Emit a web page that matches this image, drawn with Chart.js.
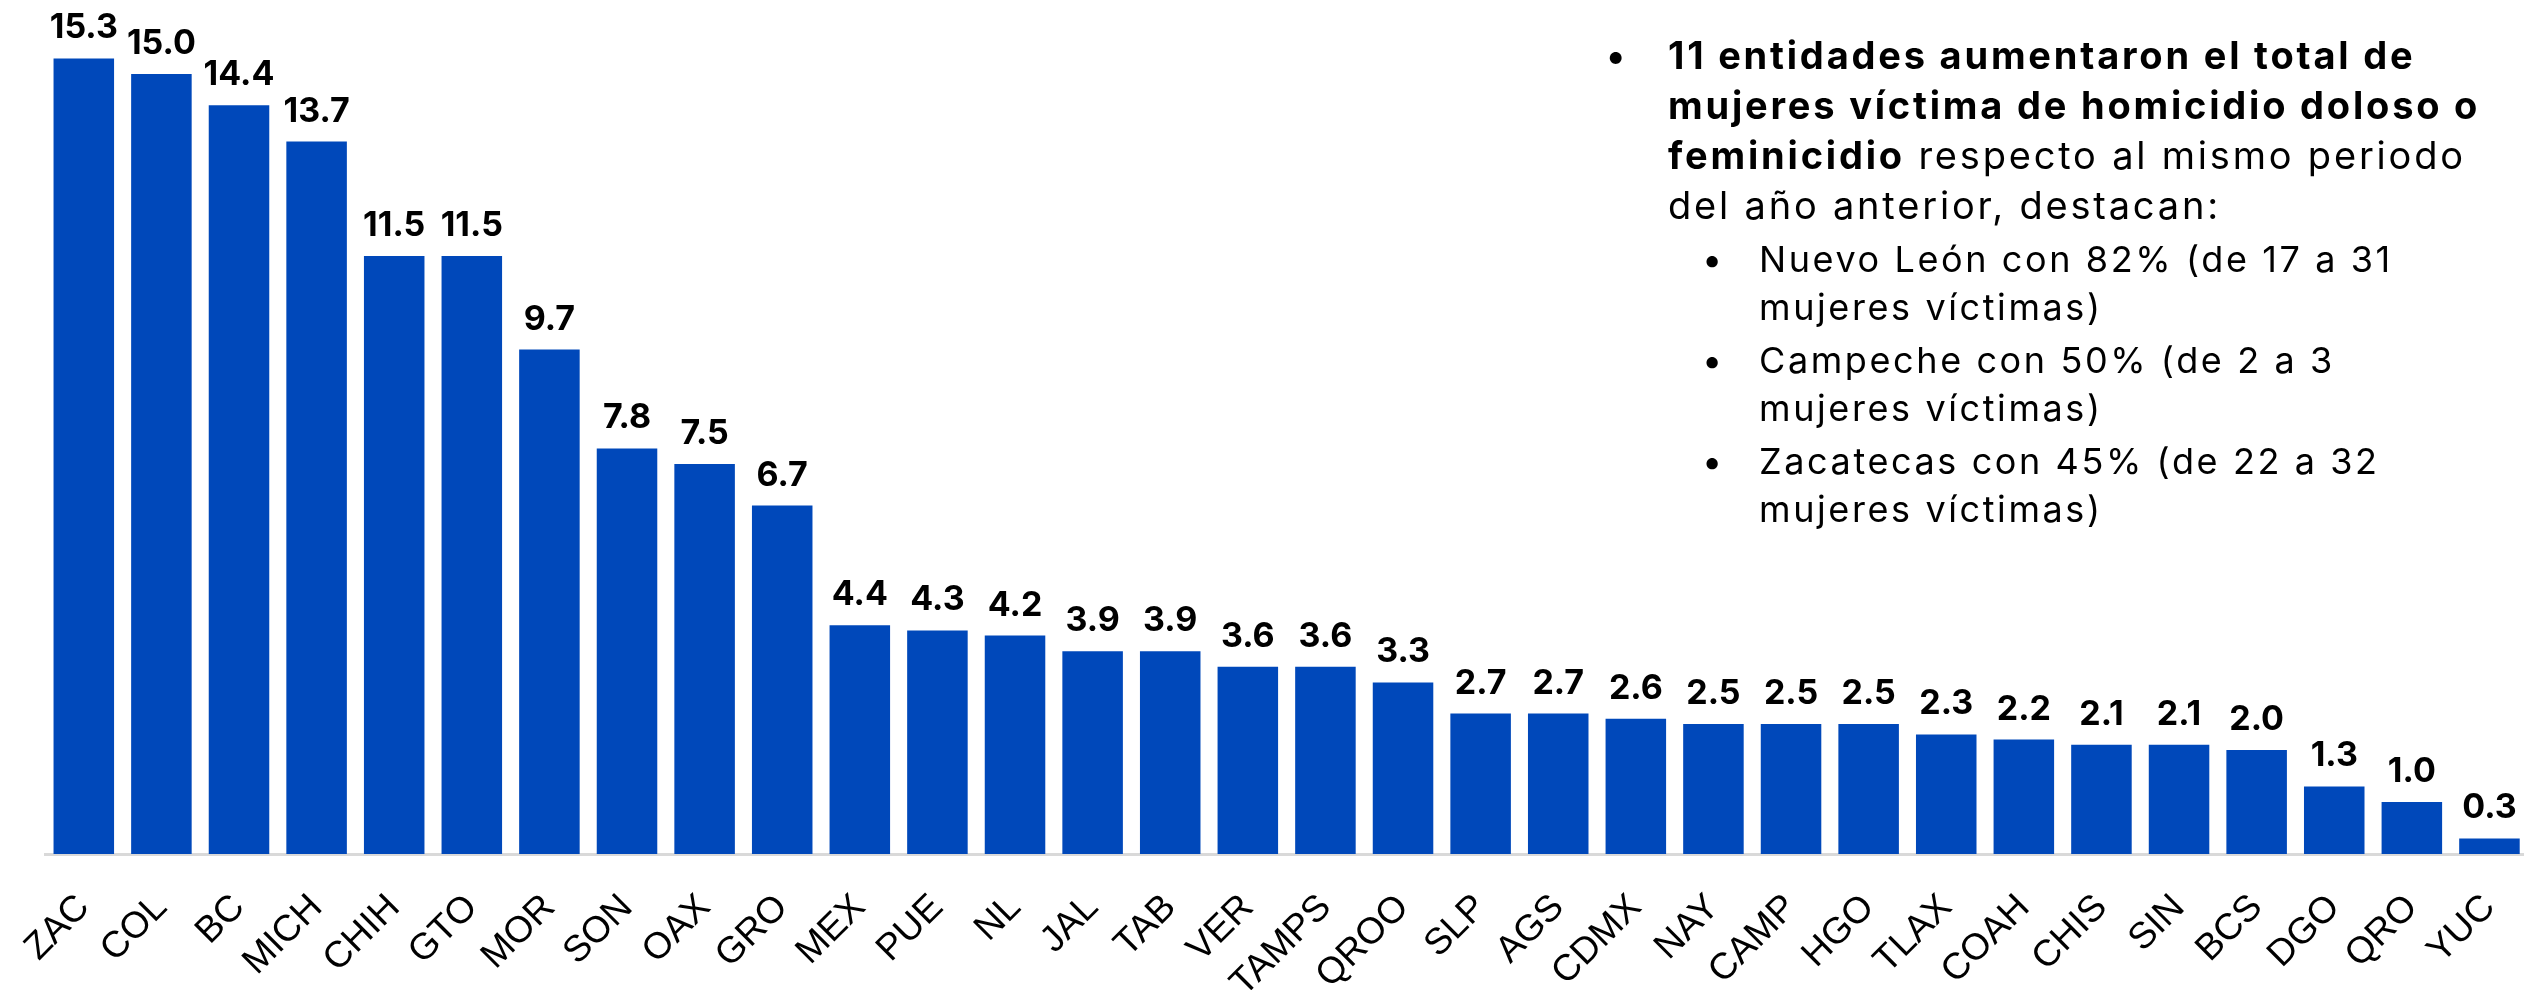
<!DOCTYPE html>
<html>
<head>
<meta charset="utf-8">
<script src="https://cdn.jsdelivr.net/npm/chart.js@4.4.1/dist/chart.umd.min.js"></script>
<style>
  html, body { margin: 0; padding: 0; background: #fff; overflow: hidden; }
  #wrap { position: absolute; left: 0; top: 0; width: 2545px; height: 990px; }
  #nota {
    position: absolute; left: 1613px; top: 30px; width: 910px;
    font-family: Inter, "Noto Sans", sans-serif; font-size: 38px; line-height: 50px;
    letter-spacing: 2.8px; color: #000; white-space: nowrap;
  }
  #nota ul { margin: 0; padding: 0; list-style: none; }
  #nota li.main { position: relative; padding-left: 55px; }
  #nota li.main::before { content: "\2022"; position: absolute; left: -8px; top: 0; }
  #nota ul.sub { margin-left: 40px; font-size: 36px; letter-spacing: 2.6px; }
  #nota ul.sub li { position: relative; padding-left: 51px; margin-top: 5px; line-height: 48px; }
  #nota ul.sub li::before { content: "\2022"; position: absolute; left: -6px; top: 0; }
</style>
</head>
<body>
<div id="wrap"><canvas id="grafica" width="2545" height="990"></canvas></div>
<div id="nota">
  <ul>
    <li class="main"><b>11 entidades aumentaron el total de<br>mujeres víctima de homicidio doloso o<br>feminicidio</b> respecto al mismo periodo<br>del año anterior, destacan:
      <ul class="sub">
        <li>Nuevo León con 82% (de 17 a 31<br>mujeres víctimas)</li>
        <li>Campeche con 50% (de 2 a 3<br>mujeres víctimas)</li>
        <li>Zacatecas con 45% (de 22 a 32<br>mujeres víctimas)</li>
      </ul>
    </li>
  </ul>
</div>
<script>
// entidades y tasa
const entidades = ['ZAC', 'COL', 'BC', 'MICH', 'CHIH', 'GTO', 'MOR', 'SON', 'OAX', 'GRO',
  'MEX', 'PUE', 'NL', 'JAL', 'TAB', 'VER', 'TAMPS', 'QROO', 'SLP', 'AGS',
  'CDMX', 'NAY', 'CAMP', 'HGO', 'TLAX', 'COAH', 'CHIS', 'SIN', 'BCS', 'DGO', 'QRO', 'YUC'];
const tasas = [15.3, 15.0, 14.4, 13.7, 11.5, 11.5, 9.7, 7.8, 7.5, 6.7,
  4.4, 4.3, 4.2, 3.9, 3.9, 3.6, 3.6, 3.3, 2.7, 2.7,
  2.6, 2.5, 2.5, 2.5, 2.3, 2.2, 2.1, 2.1, 2.0, 1.3, 1.0, 0.3];
const ejeMax = 16;

// etiquetas arriba de cada barra
const etiquetas = {
  id: 'etiquetas',
  afterDatasetsDraw(chart) {
    const ctx = chart.ctx;
    const meta = chart.getDatasetMeta(0);
    ctx.save();
    ctx.font = 'bold 34px Inter, "Noto Sans", sans-serif';
    ctx.fillStyle = '#000';
    ctx.textAlign = 'center';
    ctx.textBaseline = 'alphabetic';
    meta.data.forEach((bar, i) => {
      ctx.fillText(tasas[i].toFixed(1), bar.x, bar.y - 20);
    });
    ctx.restore();
  }
};

const ctx = document.getElementById('grafica').getContext('2d');
new Chart(ctx, {
  type: 'bar',
  data: {
    labels: entidades,
    datasets: [{
      data: tasas,
      backgroundColor: '#0048BA',
      borderWidth: 0,
      barPercentage: 0.78,
      categoryPercentage: 1
    }]
  },
  options: {
    responsive: false,
    animation: false,
    layout: { padding: { left: 45, right: 10, top: 22, bottom: 0 } },
    plugins: { legend: { display: false }, tooltip: { enabled: false } },
    scales: {
      x: {
        grid: { display: false },
        border: { display: true, color: '#d9d9d9', width: 3 },
        ticks: {
          autoSkip: false, maxRotation: 45, minRotation: 45,
          color: '#000', padding: 24,
          font: { family: 'Arial, "Liberation Sans", sans-serif', size: 37 }
        },
        afterFit(scale) { scale.height = 136; }
      },
      y: { display: false, min: 0, max: ejeMax }
    }
  },
  plugins: [etiquetas]
});
</script>
</body>
</html>
